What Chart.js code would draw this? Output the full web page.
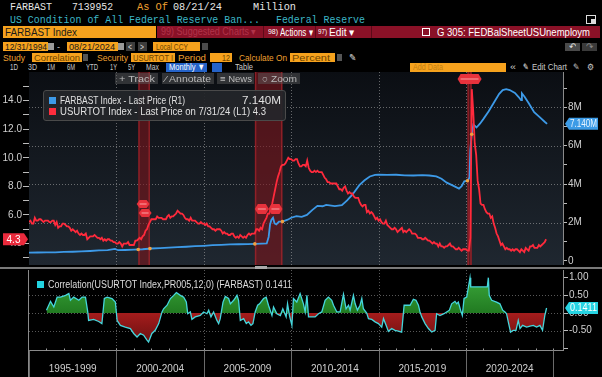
<!DOCTYPE html>
<html><head><meta charset="utf-8">
<script src="https://cdn.jsdelivr.net/npm/chart.js@4.4.1/dist/chart.umd.min.js"></script>
<style>
html,body{margin:0;padding:0;background:#000;width:602px;height:377px;overflow:hidden;font-family:"Liberation Sans",Arial,sans-serif;}
.t{position:absolute;white-space:nowrap;transform-origin:0 50%;font-family:"Liberation Sans",Arial,sans-serif;}
.m{font-family:"Liberation Mono","DejaVu Sans Mono",monospace;font-size:11.5px;}
.b{position:absolute;}
.r1{top:0;height:13px;line-height:13px;}
.r2{top:13px;height:13px;line-height:13px;color:#3cb6c6;}
.r3{top:26px;height:12px;line-height:12px;font-size:11px;color:#fff;}
.r4{top:42px;height:9px;line-height:9px;font-size:9.5px;color:#1a1a1a;}
.r5{top:53px;height:9px;line-height:9px;font-size:9.5px;}
.r6{top:63px;height:9px;line-height:9px;font-size:9px;color:#c8c8c8;}
.or{background:#f6a21d;}
.inp{color:#6e4500;}
.lab{color:#f0a030;}
canvas{position:absolute;left:0;}
</style></head>
<body>
<!-- row 1 -->
<span class="t m r1" style="left:10px;color:#e6e6e6" data-w="42">FARBAST</span>
<span class="t m r1" style="left:72px;color:#e6e6e6" data-w="41">7139952</span>
<span class="t m r1" style="left:137px;color:#f0a030" data-w="31">As Of</span>
<span class="t m r1" style="left:173px;color:#e6e6e6" data-w="49">08/21/24</span>
<span class="t m r1" style="left:253px;color:#e6e6e6" data-w="43">Million</span>
<!-- row 2 -->
<span class="t m r2" style="left:10px" data-w="250">US Condition of All Federal Reserve Ban...</span>
<span class="t m r2" style="left:276px" data-w="89">Federal Reserve</span>
<div class="b" style="left:586px;top:15px;width:8px;height:7px;border:1px solid #ddd;"></div>
<div class="b" style="left:591px;top:19px;width:5px;height:5px;background:#ddd;"></div>
<!-- row 3 -->
<div class="b or" style="left:3px;top:26px;width:153px;height:12px;"></div>
<span class="t r3" style="left:5px;color:#1a1a1a" data-w="72">FARBAST Index</span>
<div class="b" style="left:157px;top:26px;width:443px;height:12px;background:#8a1127;"></div>
<span class="t r3" style="left:161px;color:#b23349;font-size:10px" data-w="95">99) Suggested Charts ▾</span>
<div class="b" style="left:263px;top:26px;width:1px;height:12px;background:#5c0a18;"></div>
<div class="b" style="left:315px;top:26px;width:1px;height:12px;background:#5c0a18;"></div>
<div class="b" style="left:371px;top:26px;width:1px;height:12px;background:#5c0a18;"></div>
<span class="t r3" style="left:268px;font-size:8px" data-w="10">98)</span>
<span class="t r3" style="left:280px" data-w="33">Actions ▾</span>
<span class="t r3" style="left:318px;font-size:8px" data-w="9">97)</span>
<span class="t r3" style="left:329px" data-w="26">Edit ▾</span>
<div class="b" style="left:422px;top:28px;width:6px;height:6px;border:1px solid #fff;"></div>
<span class="t r3" style="left:437px" data-w="153">G 305: FEDBalSheetUSUnemploym</span>
<!-- row 4 -->
<div class="b or" style="left:3px;top:42px;width:45px;height:9px;"></div>
<span class="t r4" style="left:5px" data-w="42">12/31/1994</span>
<div class="b" style="left:48px;top:43px;width:6px;height:7px;background:#9a9a9a;"></div>
<span class="t r4" style="left:57px;color:#ccc" data-w="3">-</span>
<div class="b or" style="left:67px;top:42px;width:51px;height:9px;"></div>
<span class="t r4" style="left:69px" data-w="46">08/21/2024</span>
<div class="b" style="left:118px;top:43px;width:6px;height:7px;background:#9a9a9a;"></div>
<div class="b" style="left:126px;top:42px;width:9px;height:9px;background:#3c3c3c;"></div>
<span class="t r4" style="left:128px;color:#ddd" data-w="4">&lt;</span>
<div class="b" style="left:138px;top:42px;width:9px;height:9px;background:#3c3c3c;"></div>
<span class="t r4" style="left:140px;color:#ddd" data-w="4">&gt;</span>
<div class="b or" style="left:153px;top:42px;width:47px;height:9px;"></div>
<span class="t r4" style="left:156px;color:#6e4500" data-w="32">Local CCY</span>
<div class="b" style="left:202px;top:43px;width:6px;height:7px;background:#4a4a4a;"></div>
<!-- row 5 -->
<span class="t r5 lab" style="left:3px" data-w="22">Study</span>
<div class="b or" style="left:32px;top:53px;width:50px;height:9px;"></div>
<span class="t r5 inp" style="left:34px" data-w="46">Correlation</span>
<div class="b" style="left:83px;top:54px;width:5px;height:7px;background:#555;"></div>
<span class="t r5 lab" style="left:97px" data-w="31">Security</span>
<div class="b or" style="left:131px;top:53px;width:44px;height:9px;"></div>
<span class="t r5 inp" style="left:133px" data-w="40">USURTOT I</span>
<span class="t r5 lab" style="left:178px" data-w="28">Period</span>
<div class="b or" style="left:210px;top:53px;width:22px;height:9px;"></div>
<span class="t r5 inp" style="left:222px" data-w="8">12</span>
<span class="t r5 lab" style="left:239px" data-w="48">Calculate On</span>
<div class="b or" style="left:290px;top:53px;width:45px;height:9px;"></div>
<span class="t r5 inp" style="left:292px" data-w="38">Percent</span>
<div class="b" style="left:337px;top:54px;width:5px;height:7px;background:#555;"></div>
<span class="t r5" style="left:349px;color:#ddd" data-w="7">✎</span>
<div class="b" style="left:565px;top:43px;width:15px;height:8px;background:#4a4a4a;"></div>
<div class="b" style="left:582px;top:43px;width:15px;height:8px;background:#3a3a3a;"></div>
<span class="t r4" style="left:569px;color:#ddd;top:42px" data-w="7">↶</span>
<span class="t r4" style="left:586px;color:#888;top:42px" data-w="7">↷</span>
<!-- row 6 -->
<span class="t r6" style="left:10px" data-w="8">1D</span>
<span class="t r6" style="left:28px" data-w="9">3D</span>
<span class="t r6" style="left:47px" data-w="8">1M</span>
<span class="t r6" style="left:67px" data-w="8">6M</span>
<span class="t r6" style="left:86px" data-w="12">YTD</span>
<span class="t r6" style="left:110px" data-w="7">1Y</span>
<span class="t r6" style="left:128px" data-w="7">5Y</span>
<span class="t r6" style="left:146px" data-w="13">Max</span>
<div class="b" style="left:166px;top:63px;width:41px;height:9px;background:#2563c9;"></div>
<span class="t r6" style="left:169px;color:#fff" data-w="36">Monthly ▼</span>
<div class="b" style="left:212px;top:63px;width:10px;height:9px;background:#2563c9;"></div>
<span class="t r6" style="left:235px" data-w="18">Table</span>
<div class="b or" style="left:410px;top:63px;width:96px;height:9px;"></div>
<span class="t r6" style="left:413px;color:#c47f12" data-w="30">Add Data</span>
<span class="t r6" style="left:510px" data-w="6">«</span>
<span class="t r6" style="left:523px;color:#fff" data-w="6">✎</span>
<span class="t r6" style="left:532px" data-w="35">Edit Chart</span>
<span class="t r6" style="left:573px" data-w="7">✎</span>
<span class="t r6" style="left:587px" data-w="7">⚙</span>

<canvas id="top" width="602" height="193" style="top:72px"></canvas>
<div class="b" style="left:0;top:267px;width:602px;height:2px;background:#7a7a7a;"></div>
<div class="b" style="left:255px;top:266px;width:12px;height:3px;background:#aaa;"></div>
<canvas id="bot" width="602" height="107" style="top:270px"></canvas>

<!-- chart overlays -->
<div class="b" style="left:115px;top:73px;width:43px;height:11px;background:rgba(95,95,95,0.45);"></div>
<div class="b" style="left:162px;top:73px;width:52px;height:11px;background:rgba(95,95,95,0.45);"></div>
<div class="b" style="left:217px;top:73px;width:37px;height:11px;background:rgba(95,95,95,0.45);"></div>
<div class="b" style="left:258px;top:73px;width:42px;height:11px;background:rgba(95,95,95,0.45);"></div>
<span class="t" style="left:119px;top:73px;line-height:11px;font-size:9.5px;color:#bbb" data-w="36">+ Track</span>
<span class="t" style="left:165px;top:73px;line-height:11px;font-size:9.5px;color:#bbb" data-w="46">⁄ Annotate</span>
<span class="t" style="left:220px;top:73px;line-height:11px;font-size:9.5px;color:#bbb" data-w="32">≡ News</span>
<span class="t" style="left:262px;top:73px;line-height:11px;font-size:9.5px;color:#bbb" data-w="35">○ Zoom</span>

<div class="b" style="left:43px;top:90px;width:241px;height:29px;background:rgba(36,38,42,0.93);border:1px solid #4a4a4a;border-radius:3px;"></div>
<div class="b" style="left:49px;top:97px;width:7px;height:7px;background:#3d9ae8;"></div>
<span class="t" style="left:60px;top:95px;line-height:11px;font-size:10px;color:#e0e0e0" data-w="125">FARBAST Index - Last Price (R1)</span>
<span class="t" style="left:242px;top:95px;line-height:11px;font-size:10px;color:#e0e0e0" data-w="39">7.140M</span>
<div class="b" style="left:49px;top:108px;width:7px;height:7px;background:#ff2d3d;"></div>
<span class="t" style="left:60px;top:106px;line-height:11px;font-size:10px;color:#e0e0e0" data-w="206">USURTOT Index - Last Price on 7/31/24 (L1) 4.3</span>

<div class="b" style="left:37px;top:281px;width:7px;height:7px;background:#22d3e0;"></div>
<span class="t" style="left:48px;top:279px;line-height:11px;font-size:10px;color:#dcdcdc" data-w="244">Correlation(USURTOT Index,PR005,12,0) (FARBAST) 0.1411</span>

<script>
// ---------------- DATA ----------------
// US unemployment rate (USURTOT), monthly, Dec 1994 .. Jul 2024 (plotted at month end)
const unemploymentFirstMonthEnd = 1995.0;
const unemployment = [
 5.5,
 5.6,5.4,5.4,5.8,5.6,5.6,5.7,5.7,5.6,5.5,5.6,5.6,
 5.6,5.5,5.5,5.6,5.6,5.3,5.5,5.1,5.2,5.2,5.4,5.4,
 5.3,5.2,5.2,5.1,4.9,5.0,4.9,4.8,4.9,4.7,4.6,4.7,
 4.6,4.6,4.7,4.3,4.4,4.5,4.5,4.5,4.6,4.5,4.4,4.4,
 4.3,4.4,4.2,4.3,4.2,4.3,4.3,4.2,4.2,4.1,4.1,4.0,
 4.0,4.1,4.0,3.8,4.0,4.0,4.0,4.1,3.9,3.9,3.9,3.9,
 4.2,4.2,4.3,4.4,4.3,4.5,4.6,4.9,5.0,5.3,5.5,5.7,
 5.7,5.7,5.7,5.9,5.8,5.8,5.8,5.7,5.7,5.7,5.9,6.0,
 5.8,5.9,5.9,6.0,6.1,6.3,6.2,6.1,6.1,6.0,5.8,5.7,
 5.7,5.6,5.8,5.6,5.6,5.6,5.5,5.4,5.4,5.5,5.4,5.4,
 5.3,5.4,5.2,5.2,5.1,5.0,5.0,4.9,5.0,5.0,5.0,4.9,
 4.7,4.8,4.7,4.7,4.6,4.6,4.7,4.7,4.5,4.4,4.5,4.4,
 4.6,4.5,4.4,4.5,4.4,4.6,4.7,4.6,4.7,4.7,4.7,5.0,
 5.0,4.9,5.1,5.0,5.4,5.6,5.8,6.1,6.1,6.5,6.8,7.3,
 7.8,8.3,8.7,9.0,9.4,9.5,9.5,9.6,9.8,10.0,9.9,9.9,
 9.8,9.8,9.9,9.9,9.6,9.4,9.4,9.5,9.5,9.4,9.8,9.3,
 9.1,9.0,9.0,9.1,9.0,9.1,9.0,9.0,9.0,8.8,8.6,8.5,
 8.3,8.3,8.2,8.2,8.2,8.2,8.2,8.0,7.8,7.8,7.7,7.9,
 8.0,7.7,7.5,7.6,7.5,7.5,7.3,7.2,7.2,7.2,6.9,6.7,
 6.6,6.7,6.7,6.2,6.3,6.1,6.2,6.1,5.9,5.7,5.8,5.6,
 5.7,5.5,5.4,5.4,5.6,5.3,5.2,5.1,5.0,5.0,5.1,5.0,
 4.8,4.9,5.0,5.1,4.8,4.9,4.8,4.9,5.0,4.9,4.7,4.7,
 4.7,4.6,4.4,4.4,4.4,4.3,4.3,4.4,4.3,4.2,4.2,4.1,
 4.0,4.1,4.0,4.0,3.8,4.0,3.8,3.8,3.7,3.8,3.8,3.9,
 4.0,3.8,3.8,3.7,3.6,3.6,3.7,3.6,3.5,3.6,3.6,3.6,
 3.5,3.5,4.4,14.8,13.2,11.0,10.2,8.4,7.8,6.8,6.7,6.7,
 6.4,6.2,6.1,6.1,5.8,5.9,5.4,5.1,4.7,4.5,4.2,3.9,
 4.0,3.8,3.6,3.7,3.6,3.6,3.5,3.6,3.5,3.6,3.6,3.5,
 3.4,3.6,3.5,3.4,3.7,3.6,3.5,3.8,3.8,3.9,3.7,3.7,
 3.7,3.9,3.8,3.9,4.0,4.1,4.3
];
// Fed balance sheet total assets (FARBAST), in millions; axis shows M = million millions
const farbastDates = [1994.92,1995.5,1996.0,1996.5,1997.0,1997.5,1998.0,1998.5,1999.0,1999.5,1999.92,2000.1,2000.5,2001.0,2001.5,2002.0,2002.5,2003.0,2003.5,2004.0,2004.5,2005.0,2005.5,2006.0,2006.5,2007.0,2007.5,2008.0,2008.6,2008.71,2008.79,2008.87,2008.96,2009.05,2009.15,2009.3,2009.5,2009.8,2010.0,2010.3,2010.6,2010.9,2011.2,2011.5,2011.8,2012.0,2012.5,2012.9,2013.2,2013.5,2013.9,2014.2,2014.5,2014.8,2015.0,2015.5,2016.0,2016.5,2017.0,2017.5,2017.9,2018.3,2018.6,2018.9,2019.2,2019.6,2019.75,2019.9,2020.1,2020.2,2020.25,2020.33,2020.42,2020.5,2020.6,2020.8,2021.0,2021.3,2021.6,2021.9,2022.1,2022.3,2022.5,2022.8,2023.0,2023.15,2023.2,2023.35,2023.6,2023.9,2024.2,2024.5,2024.64];
const farbastValues = [0.43,0.44,0.45,0.45,0.47,0.48,0.50,0.52,0.55,0.56,0.63,0.56,0.57,0.59,0.61,0.65,0.67,0.70,0.72,0.74,0.77,0.79,0.82,0.84,0.86,0.87,0.88,0.89,0.91,1.25,1.90,2.15,2.25,1.95,1.90,2.05,2.05,2.15,2.25,2.33,2.30,2.40,2.65,2.87,2.85,2.92,2.86,2.91,3.15,3.45,3.95,4.20,4.40,4.48,4.49,4.48,4.49,4.46,4.45,4.47,4.45,4.40,4.28,4.08,3.95,3.77,3.90,4.15,4.18,4.35,5.80,6.60,7.10,7.05,6.95,7.15,7.40,7.80,8.25,8.70,8.90,8.95,8.90,8.75,8.55,8.38,8.73,8.55,8.20,7.75,7.50,7.25,7.14];
// 12-period rolling correlation
const corrDates = [1996.00,1996.23,1996.42,1996.61,1996.80,1997.09,1997.28,1997.37,1997.56,1997.85,1998.04,1998.23,1998.36,1998.41,1998.70,1998.99,1999.17,1999.31,1999.47,1999.75,1999.94,2000.00,2000.04,2000.23,2000.51,2000.80,2000.99,2001.18,2001.37,2001.56,2001.75,2001.84,2002.03,2002.22,2002.42,2002.61,2002.70,2002.90,2003.09,2003.28,2003.43,2003.66,2003.85,2004.00,2004.08,2004.23,2004.32,2004.51,2004.80,2004.99,2005.18,2005.28,2005.41,2005.56,2005.75,2005.85,2005.94,2006.10,2006.23,2006.42,2006.52,2006.71,2006.90,2006.99,2007.09,2007.28,2007.43,2007.56,2007.70,2007.81,2007.94,2008.08,2008.19,2008.42,2008.57,2008.70,2008.90,2008.99,2009.18,2009.38,2009.52,2009.71,2009.79,2009.90,2010.04,2010.13,2010.32,2010.51,2010.70,2010.80,2010.90,2010.99,2011.09,2011.37,2011.56,2011.75,2011.94,2012.13,2012.32,2012.42,2012.61,2012.80,2012.99,2013.14,2013.28,2013.37,2013.56,2013.66,2013.79,2013.94,2014.04,2014.13,2014.32,2014.42,2014.61,2014.80,2014.99,2015.18,2015.28,2015.43,2015.56,2015.75,2015.94,2016.13,2016.32,2016.46,2016.61,2016.80,2016.99,2017.14,2017.28,2017.37,2017.47,2017.66,2017.85,2018.04,2018.23,2018.32,2018.51,2018.74,2018.89,2019.05,2019.18,2019.37,2019.47,2019.56,2019.69,2019.79,2019.89,2020.04,2020.23,2020.27,2020.61,2020.99,2021.22,2021.28,2021.33,2021.47,2021.75,2021.94,2022.10,2022.23,2022.32,2022.42,2022.55,2022.70,2022.86,2022.99,2023.09,2023.24,2023.47,2023.66,2023.85,2024.04,2024.23,2024.38,2024.51,2024.61];
const corrValues = [0.08,0.33,0.17,0.45,0.45,0.50,0.55,0.36,0.45,0.36,0.45,0.45,0.03,-0.21,-0.18,-0.24,-0.30,0.41,0.45,0.41,0.31,0.00,-0.21,-0.35,-0.40,-0.44,-0.58,-0.68,-0.58,-0.63,-0.77,-0.82,-0.58,-0.49,-0.30,0.03,0.12,0.22,0.41,0.50,0.58,0.50,0.45,0.31,-0.02,0.03,-0.18,-0.11,-0.07,0.03,-0.02,0.08,-0.11,0.03,-0.21,-0.30,-0.16,0.31,0.47,0.41,0.26,0.36,0.50,0.36,-0.21,-0.16,-0.30,-0.25,-0.35,-0.30,0.03,0.22,0.26,0.41,0.45,0.22,-0.07,0.17,-0.02,-0.07,0.12,-0.11,0.26,-0.07,-0.35,0.41,0.31,0.55,0.26,0.03,0.50,-0.11,-0.11,-0.11,-0.02,0.03,0.36,0.45,0.36,0.22,0.03,0.03,0.53,0.12,0.22,0.08,0.50,0.26,0.08,0.22,0.41,0.12,0.00,-0.16,-0.18,-0.25,-0.30,-0.40,-0.16,-0.35,-0.52,-0.44,-0.49,-0.51,-0.54,0.22,0.22,0.22,0.39,0.36,0.22,0.03,-0.11,-0.30,-0.44,-0.54,-0.49,-0.02,-0.07,-0.02,0.03,0.08,0.26,0.33,0.26,0.31,0.08,-0.07,0.41,0.45,1.00,0.74,0.74,0.74,0.74,1.00,0.50,0.36,0.31,0.26,0.08,0.03,-0.02,-0.25,-0.54,-0.49,-0.49,-0.21,-0.44,-0.35,-0.40,-0.37,-0.35,-0.40,-0.35,-0.49,-0.07,0.1411];
const recessions = [[2001.25, 2001.92], [2007.92, 2009.5], [2020.08, 2020.33]];
const gridYears = [2000, 2005, 2010, 2015, 2020];
const periodStarts = [1995, 2000, 2005, 2010, 2015, 2020];
const periodLabels = ['1995-1999', '2000-2004', '2005-2009', '2010-2014', '2015-2019', '2020-2024'];
const unempTicks = [3,4,5,6,7,8,9,10,11,12,13,14,15];
const balanceTicks = [0,1,2,3,4,5,6,7,8,9];
const balanceGrid = [2,4,6,8];
const corrTicks = [-1,-0.5,0,0.5,1];
const corrGrid = [-0.5,0,0.5];
const lastUnemp = 4.3, lastBalance = 7.14, lastCorr = 0.1411;

// ---------------- helpers ----------------
document.querySelectorAll('[data-w]').forEach(e => {
  const w = e.getBoundingClientRect().width;
  if (w > 0) e.style.transform = 'scaleX(' + (+e.dataset.w / w) + ')';
});
const X_MIN = 1995.0, X_MAX = 2025.55;
const FONT = '"Liberation Sans", Arial, sans-serif';

function seg(ctx, x1, y1, x2, y2) {
  ctx.beginPath(); ctx.moveTo(x1, y1); ctx.lineTo(x2, y2); ctx.stroke();
}
function flag(ctx, x0, x1, yc, h, pointLeft, bg, fg, text) {
  ctx.save();
  ctx.beginPath();
  if (pointLeft) {
    ctx.moveTo(x0, yc); ctx.lineTo(x0 + 4, yc - h / 2); ctx.lineTo(x1, yc - h / 2);
    ctx.lineTo(x1, yc + h / 2); ctx.lineTo(x0 + 4, yc + h / 2);
  } else {
    ctx.moveTo(x0, yc - h / 2); ctx.lineTo(x1 - 4, yc - h / 2); ctx.lineTo(x1, yc);
    ctx.lineTo(x1 - 4, yc + h / 2); ctx.lineTo(x0, yc + h / 2);
  }
  ctx.closePath(); ctx.fillStyle = bg; ctx.fill();
  ctx.font = '10px ' + FONT; ctx.fillStyle = fg; ctx.textAlign = 'center'; ctx.textBaseline = 'middle';
  const tw = ctx.measureText(text).width, avail = (x1 - x0) - 6;
  const cx = (x0 + x1) / 2 + (pointLeft ? 2 : -2);
  ctx.translate(cx, yc + 0.5); ctx.scale(Math.min(1, avail / tw), 1);
  ctx.fillText(text, 0, 0);
  ctx.restore();
}
function hexMark(ctx, cx, cy, w, h) {
  ctx.save();
  ctx.beginPath();
  ctx.moveTo(cx - w / 2, cy); ctx.lineTo(cx - w / 2 + 3, cy - h / 2); ctx.lineTo(cx + w / 2 - 3, cy - h / 2);
  ctx.lineTo(cx + w / 2, cy); ctx.lineTo(cx + w / 2 - 3, cy + h / 2); ctx.lineTo(cx - w / 2 + 3, cy + h / 2);
  ctx.closePath(); ctx.fillStyle = '#e8323c'; ctx.fill();
  ctx.fillStyle = 'rgba(255,190,190,0.8)';
  ctx.fillRect(cx - w / 2 + 3, cy - 0.5, w - 6, 1);
  ctx.restore();
}
function interp(xs, ys, x) {
  for (let i = 1; i < xs.length; i++) if (xs[i] >= x) {
    const t = (x - xs[i - 1]) / (xs[i] - xs[i - 1]); return ys[i - 1] + t * (ys[i] - ys[i - 1]);
  }
  return ys[ys.length - 1];
}

// ---------------- top chart ----------------
const topDeco = {
  id: 'topDeco',
  beforeDatasetsDraw(c) {
    const { ctx, chartArea: a, scales } = c;
    ctx.save();
    const g = ctx.createLinearGradient(0, a.top, 0, a.bottom);
    g.addColorStop(0, '#0b0e13'); g.addColorStop(1, '#1f2730');
    ctx.fillStyle = g; ctx.fillRect(a.left, a.top, a.right - a.left, a.bottom - a.top);
    ctx.strokeStyle = 'rgba(175,175,175,0.55)'; ctx.lineWidth = 1; ctx.setLineDash([1, 2]);
    balanceGrid.forEach(v => { const y = Math.round(scales.yR.getPixelForValue(v)) + 0.5; seg(ctx, a.left, y, a.right, y); });
    gridYears.forEach(v => { const x = Math.round(scales.x.getPixelForValue(v)) + 0.5; seg(ctx, x, a.top, x, a.bottom); });
    ctx.setLineDash([]);
    recessions.forEach(([s, e]) => {
      const x0 = scales.x.getPixelForValue(s), x1 = scales.x.getPixelForValue(e);
      ctx.fillStyle = 'rgba(125,22,28,0.6)'; ctx.fillRect(x0, a.top, x1 - x0, a.bottom - a.top);
      ctx.fillStyle = 'rgba(190,40,48,0.55)';
      ctx.fillRect(x0, a.top, 1.5, a.bottom - a.top); ctx.fillRect(x1 - 1.5, a.top, 1.5, a.bottom - a.top);
    });
    ctx.restore();
  },
  afterDatasetsDraw(c) {
    const { ctx, chartArea: a, scales } = c;
    ctx.save();
    ctx.fillStyle = '#f0a040';
    recessions.forEach(([s, e]) => [s, e].forEach(d => {
      const x = scales.x.getPixelForValue(d), y = scales.yR.getPixelForValue(interp(farbastDates, farbastValues, d));
      ctx.beginPath(); ctx.arc(x, y, 1.8, 0, Math.PI * 2); ctx.fill();
    }));
    ctx.restore();
    const r0 = recessions[0], r1 = recessions[1], r2 = recessions[2];
    const cx0 = scales.x.getPixelForValue((r0[0] + r0[1]) / 2);
    hexMark(ctx, cx0 - 1, a.top + 132, 13, 8);
    hexMark(ctx, cx0 + 1, a.top + 141, 13, 8);
    hexMark(ctx, scales.x.getPixelForValue(r1[0]) + 7, a.top + 137, 14, 10);
    hexMark(ctx, scales.x.getPixelForValue(r1[1]) - 7, a.top + 137, 14, 10);
    hexMark(ctx, scales.x.getPixelForValue((r2[0] + r2[1]) / 2), a.top + 7, 24, 10);
  },
  afterDraw(c) {
    const { ctx, scales } = c;
    flag(ctx, 3, 28, scales.yL.getPixelForValue(lastUnemp), 12, false, '#ea2a3c', '#ffffff', lastUnemp.toFixed(1));
    flag(ctx, 565, 598, scales.yR.getPixelForValue(lastBalance), 12, true, '#3c9be6', '#e8f4ff', lastBalance.toFixed(3) + 'M');
  }
};

new Chart(document.getElementById('top'), {
  type: 'line',
  data: {
    datasets: [
      { label: 'USURTOT Index', yAxisID: 'yL', borderColor: '#ff2a3c', borderWidth: 1.8,
        data: unemployment.map((v, i) => ({ x: unemploymentFirstMonthEnd + i / 12, y: v })) },
      { label: 'FARBAST Index', yAxisID: 'yR', borderColor: '#3d9ae8', borderWidth: 1.8,
        data: farbastDates.map((d, i) => ({ x: d, y: farbastValues[i] })) }
    ]
  },
  options: {
    responsive: false, animation: false, devicePixelRatio: 1,
    layout: { padding: 0, autoPadding: false },
    elements: { point: { radius: 0 }, line: { tension: 0 } },
    plugins: { legend: { display: false }, tooltip: { enabled: false } },
    scales: {
      x: { type: 'linear', min: X_MIN, max: X_MAX, ticks: { display: false }, grid: { display: false }, border: { display: false },
           afterFit(s) { s.height = 0; s.paddingLeft = 0; s.paddingRight = 0; } },
      yL: { position: 'left', min: 2.5, max: 16,
            afterBuildTicks(s) { s.ticks = unempTicks.map(v => ({ value: v })); },
            afterFit(s) { s.width = 29; s.paddingTop = 0; s.paddingBottom = 0; },
            ticks: { autoSkip: false, color: '#d0d0d0', font: { size: 10, family: FONT }, padding: 1, callback: v => (v % 2 === 0 ? v.toFixed(1) : '') },
            grid: { drawOnChartArea: false, tickLength: 6, tickColor: '#bbbbbb' }, border: { color: '#8a8a8a' } },
      yR: { position: 'right', min: -0.21, max: 9.84,
            afterBuildTicks(s) { s.ticks = balanceTicks.map(v => ({ value: v })); },
            afterFit(s) { s.width = 39; s.paddingTop = 0; s.paddingBottom = 0; },
            ticks: { autoSkip: false, color: '#d0d0d0', font: { size: 10, family: FONT }, padding: 1, callback: v => (v === 0 ? '0' : (v % 2 === 0 ? v + 'M' : '')) },
            grid: { drawOnChartArea: false, tickLength: 4, tickColor: '#bbbbbb' }, border: { color: '#8a8a8a' } }
    }
  },
  plugins: [topDeco]
});

// ---------------- bottom chart ----------------
const botCanvas = document.getElementById('bot');
const bctx = botCanvas.getContext('2d');
const greenGrad = bctx.createLinearGradient(0, 0, 0, 43);
greenGrad.addColorStop(0, '#3fae3f'); greenGrad.addColorStop(1, '#217a21');
const redGrad = bctx.createLinearGradient(0, 43, 0, 80);
redGrad.addColorStop(0, '#a51c1c'); redGrad.addColorStop(1, '#5c0e0e');

const botDeco = {
  id: 'botDeco',
  beforeDatasetsDraw(c) {
    const { ctx, chartArea: a, scales } = c;
    ctx.save();
    ctx.strokeStyle = 'rgba(175,175,175,0.5)'; ctx.lineWidth = 1; ctx.setLineDash([1, 2]);
    corrGrid.forEach(v => { const y = Math.round(scales.y.getPixelForValue(v)) + 0.5; seg(ctx, a.left, y, a.right, y); });
    gridYears.forEach(v => { const x = Math.round(scales.x.getPixelForValue(v)) + 0.5; seg(ctx, x, a.top, x, a.bottom); });
    ctx.restore();
  },
  afterDraw(c) {
    const { ctx, chartArea: a, scales } = c;
    ctx.save();
    ctx.strokeStyle = '#8a8a8a'; ctx.lineWidth = 1;
    const yb = Math.round(a.bottom) + 0.5;
    seg(ctx, a.left, yb, a.right, yb);
    seg(ctx, Math.round(a.left) - 0.5, a.top, Math.round(a.left) - 0.5, c.height);
    ctx.strokeStyle = '#9a9a9a';
    for (let yr = 1996; yr <= 2025; yr++) {
      const x = Math.round(scales.x.getPixelForValue(yr)) + 0.5; seg(ctx, x, yb - 2, x, yb);
    }
    ctx.strokeStyle = '#6a6a6a';
    periodStarts.concat([2025]).forEach(v => {
      const x = Math.round(scales.x.getPixelForValue(v)) + 0.5; seg(ctx, x, yb, x, c.height);
    });
    ctx.restore();
    flag(ctx, 565, 598, scales.y.getPixelForValue(lastCorr), 12, true, '#26d3e2', '#ffffff', lastCorr.toFixed(4));
  }
};

new Chart(botCanvas, {
  type: 'line',
  data: {
    datasets: [{
      label: 'Correlation', borderColor: '#45d6dc', borderWidth: 1.3,
      fill: { target: 'origin', above: greenGrad, below: redGrad },
      data: corrDates.map((d, i) => ({ x: d, y: corrValues[i] }))
    }]
  },
  options: {
    responsive: false, animation: false, devicePixelRatio: 1,
    layout: { padding: { left: 29, top: 0, right: 0, bottom: 0 }, autoPadding: false },
    elements: { point: { radius: 0 }, line: { tension: 0 } },
    plugins: { legend: { display: false }, tooltip: { enabled: false } },
    scales: {
      x: { type: 'linear', position: 'bottom', min: X_MIN, max: X_MAX,
           afterBuildTicks(s) { s.ticks = periodStarts.map(v => ({ value: v + 2.5 })); },
           afterFit(s) { s.height = 27; s.paddingLeft = 0; s.paddingRight = 0; },
           ticks: { color: '#d0d0d0', font: { size: 10, family: FONT }, padding: 13, maxRotation: 0, autoSkip: false,
                    callback: v => periodLabels[periodStarts.indexOf(v - 2.5)] || '' },
           grid: { display: false, drawTicks: false }, border: { display: false } },
      y: { position: 'right', min: -1.048, max: 1.218,
           afterBuildTicks(s) { s.ticks = corrTicks.map(v => ({ value: v })); },
           afterFit(s) { s.width = 39; s.paddingTop = 0; s.paddingBottom = 0; },
           ticks: { autoSkip: false, color: '#d0d0d0', font: { size: 10, family: FONT }, padding: 1, callback: v => (v === -1 ? '' : v.toFixed(2)) },
           grid: { drawOnChartArea: false, tickLength: 5, tickColor: '#bbbbbb' }, border: { color: '#8a8a8a' } }
    }
  },
  plugins: [botDeco]
});
</script>
</body></html>
